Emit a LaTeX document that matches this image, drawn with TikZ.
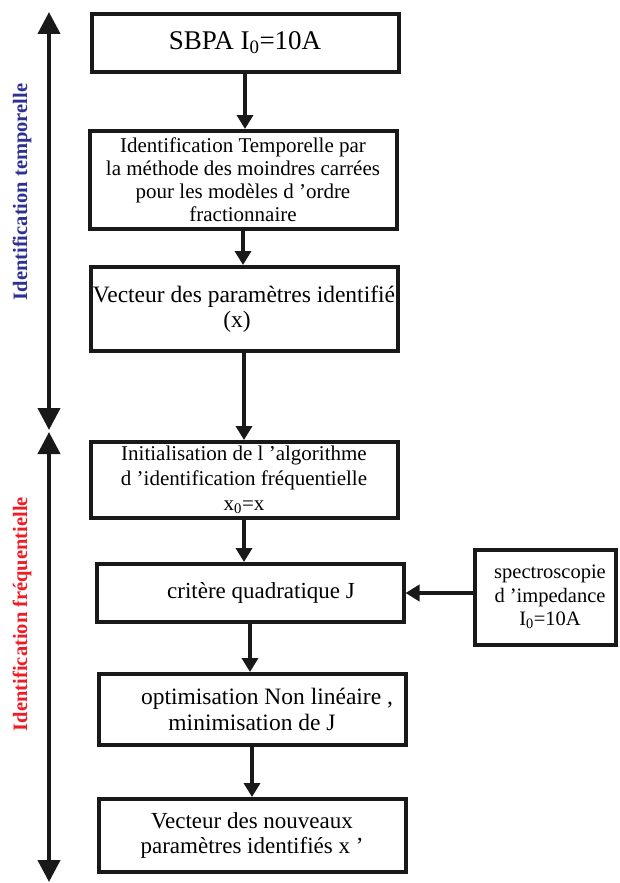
\documentclass[tikz,border=0pt]{standalone}
\usepackage{fontspec}
\setmainfont{Liberation Serif}
\usetikzlibrary{positioning,arrows.meta}
\definecolor{tblue}{HTML}{2E3192}
\definecolor{fred}{HTML}{EE1C25}

\begin{document}
\begin{tikzpicture}[
    x=1pt, y=1pt,
    module/.style={draw=black!90, line width=4pt, minimum width=307pt, align=center, inner sep=2pt, font=\fontsize{23}{25}\selectfont},
    specmodule/.style={module, minimum width=141pt, minimum height=95pt, font=\fontsize{20.5}{23.5}\selectfont},
    arrow/.style={-{Triangle[length=14pt,width=16pt]}, line width=3.5pt, draw=black!90},
    phasearrow/.style={{Triangle[length=22pt,width=22pt]}-{Triangle[length=22pt,width=22pt]}, line width=4pt, draw=black!90},
    phase/.style={rotate=90, font=\fontsize{20.5}{22}\selectfont\bfseries},
    ]
    \useasboundingbox (0,0) rectangle (620,-883);
    \node[module, minimum height=58pt, font=\fontsize{27}{30}\selectfont] (sbpa) at (245,-43)
    {SBPA I\textsubscript{0}=10A};
    \node[below=55pt of sbpa, xshift=-2pt, module, minimum height=98pt, font=\fontsize{21}{23}\selectfont] (temp)
    {Identification Temporelle par\\la méthode des moindres carrées\\pour les modèles d ’ordre\\fractionnaire};
    \node[below=34pt of temp, xshift=1pt, module, minimum height=84pt, font=\fontsize{23.5}{25}\selectfont] (vect)
    {Vecteur des paramètres identifié\\(x)\hspace*{14pt}};
    \node[below=87pt of vect, module, minimum height=76pt, font=\fontsize{21}{25}\selectfont] (init)
    {Initialisation de l ’algorithme\\d ’identification fréquentielle\\x\textsubscript{0}=x};
    \node[below=42pt of init, xshift=6pt, module, minimum height=58pt] (crit)
    {\hspace*{22pt}critère quadratique J};
    \node[right=67pt of crit, yshift=-4pt, specmodule] (spec)
    {\hspace*{10pt}spectroscopie\\\hspace*{10pt}d ’impedance\\\hspace*{10pt}I\textsubscript{0}=10A};
    \node[below=48pt of crit, xshift=2pt, module, minimum height=71pt, font=\fontsize{23.5}{26}\selectfont] (optim)
    {\hspace*{30pt}optimisation Non linéaire ,\\minimisation de J};
    \node[below=50pt of optim, module, minimum height=73pt] (newvect)
    {Vecteur des nouveaux\\paramètres identifiés x ’};

    \draw[arrow] (sbpa.south) -- (sbpa.south |- temp.north);
    \draw[arrow] (temp.south) -- (temp.south |- vect.north);
    \draw[arrow] (vect.south) -- (vect.south |- init.north);
    \draw[arrow] (init.south) -- (init.south |- crit.north);
    \draw[arrow] (crit.south) -- (crit.south |- optim.north);
    \draw[arrow] (optim.south) -- (optim.south |- newvect.north);
    \draw[arrow] (spec.west |- crit.east) -- (crit.east);

    \coordinate (temptop) at (49,-12);
    \coordinate (tempbot) at (49,-430);
    \coordinate (freqtop) at (49,-432);
    \coordinate (freqbot) at (49,-882);
    \draw[phasearrow] (temptop) -- (tempbot);
    \draw[phasearrow] (freqtop) -- (freqbot);
    \node[phase, text=tblue] (templabel) at (22,-192) {Identification temporelle};
    \node[phase, text=fred] (freqlabel) at (22,-614) {Identification fréquentielle};
\end{tikzpicture}
\end{document}
